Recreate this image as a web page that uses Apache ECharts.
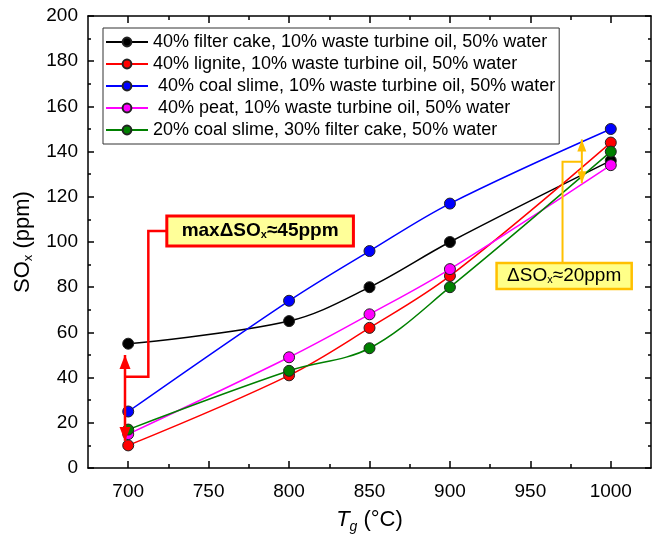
<!DOCTYPE html>
<html>
<head>
<meta charset="utf-8">
<script src="https://cdn.jsdelivr.net/npm/echarts@6/dist/echarts.min.js"></script>
<style>
html, body { margin: 0; padding: 0; background: #fff; }
#main { width: 653px; height: 539px; }
</style>
</head>
<body>
<div id="main"></div>
<script>
// gas temperature, °C
var temps = [700, 800, 850, 900, 1000];

// SOx, ppm
var filterCake = [55, 65, 80, 100, 136];
var lignite = [10, 41, 62, 85, 144];
var coalSlime = [25, 74, 96, 117, 150];
var peat = [15, 49, 68, 88, 134];
var slimeCake = [17, 43, 53, 80, 140];

var seriesNames = [
    '40% filter cake, 10% waste turbine oil, 50% water',
    '40% lignite, 10% waste turbine oil, 50% water',
    ' 40% coal slime, 10% waste turbine oil, 50% water',
    ' 40% peat, 10% waste turbine oil, 50% water',
    '20% coal slime, 30% filter cake, 50% water'
];
var seriesColors = ['#000000', '#ff0000', '#0000ff', '#ff00ff', '#008000'];

var xMajor = [700, 750, 800, 850, 900, 950, 1000];
var xMinor = [725, 775, 825, 875, 925, 975];

// annotations, in data units (x in °C, y in ppm)
var redArrow = [[698, 50], [698, 12]];
var redLink = [[698, 40.4], [712.5, 40.4], [712.5, 104.9], [724, 104.9]];
var redBox = [[724, 111.5], [840, 98.2]];
var goldArrow = [[982, 145.4], [982, 126]];
var goldLink = [[982, 135.5], [970, 135.5], [970, 90.7]];
var goldBox = [[929, 90.7], [1013, 79.2]];

var FONT = 'Liberation Sans, Arial, sans-serif';
var chart = echarts.init(document.getElementById('main'));

function zip(xs, ys) {
    var out = [];
    for (var i = 0; i < xs.length; i++) out.push([xs[i], ys[i]]);
    return out;
}

function plain(v) { return String(v); }

function xAxisOf(pos, ticks, len, showLine, showLabel) {
    return {
        type: 'value', position: pos, min: 675, max: 1025,
        splitLine: { show: false },
        axisLine: { show: showLine, onZero: false, lineStyle: { color: '#000', width: 1.5 } },
        axisTick: { show: true, inside: true, length: len, customValues: ticks, lineStyle: { color: '#000', width: 1.5 } },
        axisLabel: { show: showLabel, customValues: showLabel ? xMajor : undefined, formatter: plain,
                     fontSize: 19, color: '#000', fontFamily: FONT, margin: 14 }
    };
}

function yAxisOf(pos, showLabel) {
    return {
        type: 'value', position: pos, min: 0, max: 200, interval: 20,
        splitLine: { show: false },
        axisLine: { show: true, onZero: false, lineStyle: { color: '#000', width: 1.5 } },
        axisTick: { show: true, inside: true, length: 6, lineStyle: { color: '#000', width: 1.5 } },
        minorTick: { show: true, splitNumber: 2, length: 3, lineStyle: { color: '#000', width: 1.5 } },
        axisLabel: { show: showLabel, formatter: plain, fontSize: 19, color: '#000', fontFamily: FONT, margin: 10 }
    };
}

var allData = [filterCake, lignite, coalSlime, peat, slimeCake];
var series = [];
for (var i = 0; i < allData.length; i++) {
    series.push({
        name: seriesNames[i],
        type: 'line',
        xAxisIndex: 0,
        yAxisIndex: 0,
        smooth: 0.35,
        symbol: 'circle',
        symbolSize: 11,
        data: zip(temps, allData[i]),
        lineStyle: { color: seriesColors[i], width: 1.5 },
        itemStyle: { color: seriesColors[i], borderColor: '#222', borderWidth: 1 }
    });
}

var bottom = xAxisOf('bottom', xMajor, 7, true, true);
bottom.name = '{it|T}{sub|g} (°C)';
bottom.nameLocation = 'middle';
bottom.nameGap = 38;
bottom.nameTextStyle = {
    fontSize: 22, color: '#000', fontFamily: FONT,
    rich: {
        it: { fontSize: 22, fontStyle: 'italic', fontFamily: FONT, color: '#000' },
        sub: { fontSize: 14, fontStyle: 'italic', fontFamily: FONT, color: '#000', padding: [14, 0, 0, 0] }
    }
};

var left = yAxisOf('left', true);
left.name = 'SO{sub|x} (ppm)';
left.nameLocation = 'middle';
left.nameRotate = 90;
left.nameGap = 52;
left.nameTextStyle = {
    fontSize: 22, color: '#000', fontFamily: FONT,
    rich: {
        sub: { fontSize: 13, fontFamily: FONT, color: '#000', padding: [12, 0, 0, 0] }
    }
};

chart.setOption({
    animation: false,
    backgroundColor: '#fff',
    textStyle: { fontFamily: FONT },
    grid: { left: 88, right: 2, top: 16, bottom: 71, outerBoundsMode: 'none' },
    legend: {
        orient: 'vertical',
        left: 103,
        top: 28,
        padding: [5, 4, 5, 2],
        itemGap: 4,
        itemWidth: 42,
        itemHeight: 11,
        borderColor: '#333',
        borderWidth: 1,
        backgroundColor: '#fff',
        textStyle: { fontSize: 18, color: '#000', fontFamily: FONT, lineHeight: 18 },
        data: seriesNames
    },
    xAxis: [
        bottom,
        xAxisOf('bottom', xMinor, 4, false, false),
        xAxisOf('top', xMajor, 7, true, false),
        xAxisOf('top', xMinor, 4, false, false)
    ],
    yAxis: [left, yAxisOf('right', false)],
    series: series
});

function px(p) {
    return chart.convertToPixel({ xAxisIndex: 0, yAxisIndex: 0 }, p);
}

function head(tip, from, w, l, color) {
    var dx = tip[0] - from[0], dy = tip[1] - from[1];
    var d = Math.sqrt(dx * dx + dy * dy);
    var ux = dx / d, uy = dy / d;
    var bx = tip[0] - ux * l, by = tip[1] - uy * l;
    return {
        type: 'polygon', z: 100,
        shape: { points: [tip, [bx - uy * w / 2, by + ux * w / 2], [bx + uy * w / 2, by - ux * w / 2]] },
        style: { fill: color }
    };
}

function doubleArrow(pts, color, width, w, l) {
    var a = px(pts[0]), b = px(pts[1]);
    return [
        { type: 'polyline', z: 99, shape: { points: [a, b] }, style: { stroke: color, lineWidth: width, fill: null } },
        head(a, b, w, l, color),
        head(b, a, w, l, color)
    ];
}

function link(pts, color, width) {
    return { type: 'polyline', z: 99, shape: { points: pts.map(px) }, style: { stroke: color, lineWidth: width, fill: null } };
}

function box(corners, stroke, lw, fill, text, bold, size) {
    var a = px(corners[0]), b = px(corners[1]);
    var weight = bold ? 'bold' : 'normal';
    return [
        { type: 'rect', z: 101, shape: { x: a[0], y: a[1], width: b[0] - a[0], height: b[1] - a[1] },
          style: { fill: fill, stroke: stroke, lineWidth: lw } },
        { type: 'text', z: 102, x: (a[0] + b[0]) / 2, y: (a[1] + b[1]) / 2,
          style: {
              text: text, align: 'center', verticalAlign: 'middle',
              fontSize: size, fontWeight: weight, fontFamily: FONT, fill: '#000',
              rich: {
                  t: { fontSize: size, fontWeight: weight, fontFamily: FONT, color: '#000' },
                  sub: { fontSize: 11, fontWeight: weight, fontFamily: FONT, color: '#000', padding: [7, 0, 0, 0] }
              }
          } }
    ];
}

var RED = '#ff0000', GOLD = '#ffc000';
var elements = []
    .concat([link(redLink, RED, 2.5)])
    .concat(doubleArrow(redArrow, RED, 2.5, 11, 14))
    .concat(box(redBox, RED, 3, '#ffff99', '{t|maxΔSO}{sub|x}{t|≈45ppm}', true, 19))
    .concat([link(goldLink, GOLD, 2)])
    .concat(doubleArrow(goldArrow, GOLD, 2, 9, 12))
    .concat(box(goldBox, GOLD, 2.5, '#ffff88', '{t|ΔSO}{sub|x}{t|≈20ppm}', false, 19));

chart.setOption({ graphic: { elements: elements } });
</script>
</body>
</html>
